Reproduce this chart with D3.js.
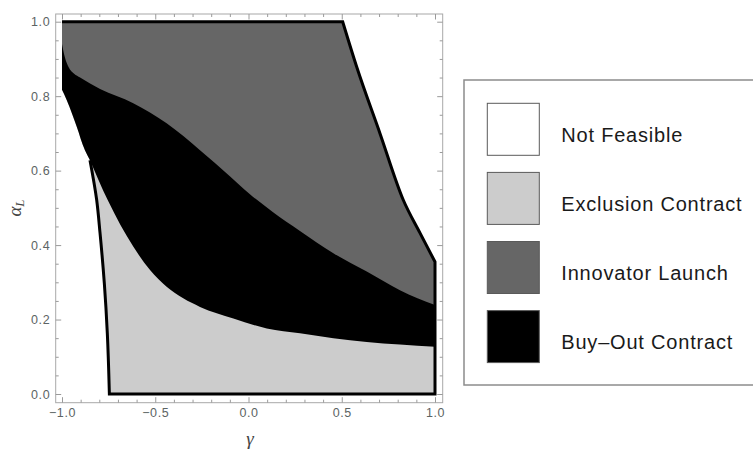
<!DOCTYPE html>
<html><head><meta charset="utf-8">
<script src="https://cdn.jsdelivr.net/npm/d3@7"></script>
<style>
html,body{margin:0;padding:0;background:#fff;}
svg{display:block;}
</style></head>
<body>
<script>
// ---- data ----
// outer feasibility boundary, lower-left part (gamma, alpha)
const leftBoundGamma = [-0.746, -0.757, -0.773, -0.796, -0.814, -0.850];
const leftBoundAlpha = [0.000, 0.163, 0.297, 0.432, 0.521, 0.628];
// outer feasibility boundary, upper-left part
const leftUpperGamma = [-0.850, -0.877, -0.921, -0.975, -1.000];
const leftUpperAlpha = [0.628, 0.655, 0.718, 0.790, 0.817];
// outer feasibility boundary, right part
const rightBoundGamma = [0.505, 0.580, 0.705, 0.830, 0.920, 1.000];
const rightBoundAlpha = [1.000, 0.879, 0.700, 0.521, 0.432, 0.355];
// boundary innovator launch / buy-out
const launchBoundGamma = [-1.000, -0.985, -0.965, -0.935, -0.903, -0.796, -0.618, -0.439, -0.260, -0.100, 0.000, 0.130, 0.276, 0.455, 0.634, 0.812, 1.000];
const launchBoundAlpha = [0.940, 0.905, 0.878, 0.860, 0.850, 0.819, 0.781, 0.727, 0.655, 0.585, 0.540, 0.489, 0.438, 0.378, 0.329, 0.279, 0.239];
// boundary buy-out / exclusion contract
const buyoutBoundGamma = [-0.850, -0.755, -0.618, -0.528, -0.439, -0.350, -0.260, -0.081, 0.098, 0.276, 0.455, 0.634, 0.812, 1.000];
const buyoutBoundAlpha = [0.628, 0.521, 0.396, 0.333, 0.288, 0.257, 0.234, 0.203, 0.176, 0.163, 0.150, 0.140, 0.133, 0.127];

const xMajorTicks = [-1, -0.5, 0, 0.5, 1];
const yMajorTicks = [0, 0.2, 0.4, 0.6, 0.8, 1.0];
const xMinorTicks = [-0.9,-0.8,-0.7,-0.6,-0.4,-0.3,-0.2,-0.1,0.1,0.2,0.3,0.4,0.6,0.7,0.8,0.9];
const yMinorTicks = [0.05,0.1,0.15,0.25,0.3,0.35,0.45,0.5,0.55,0.65,0.7,0.75,0.85,0.9,0.95];

const legendLabels = ["Not Feasible", "Exclusion Contract", "Innovator Launch", "Buy\u2013Out Contract"];
const legendColors = ["#ffffff", "#cccccc", "#666666", "#000000"];

// ---- layout ----
const W = 753, H = 450;
const frame = {l: 55.7, t: 14, r: 442.7, b: 402.7};
const x = d3.scaleLinear().domain([-1, 1]).range([62, 435]);
const y = d3.scaleLinear().domain([0, 1]).range([394, 21.7]);

const svg = d3.select("body").append("svg").attr("width", W).attr("height", H);

const zip = (g, a) => g.map((v, i) => [v, a[i]]);
const curveX = d3.line().x(d => x(d[0])).y(d => y(d[1])).curve(d3.curveMonotoneX);
const curveY = d3.line().x(d => x(d[0])).y(d => y(d[1])).curve(d3.curveMonotoneY);
const straight = d3.line().x(d => x(d[0])).y(d => y(d[1]));
function joinPath(parts, close) {
  let s = parts.map((p, i) => {
    const gen = p.curve === "x" ? curveX : p.curve === "y" ? curveY : straight;
    const str = gen(p.pts);
    return i === 0 ? str : "L" + str.slice(1);
  }).join("");
  return close ? s + "Z" : s;
}

const leftBound = zip(leftBoundGamma, leftBoundAlpha);
const leftUpper = zip(leftUpperGamma, leftUpperAlpha);
const rightBound = zip(rightBoundGamma, rightBoundAlpha);
const launchBound = zip(launchBoundGamma, launchBoundAlpha);
const buyoutBound = zip(buyoutBoundGamma, buyoutBoundAlpha);
const rev = a => a.slice().reverse();
const last = a => a[a.length - 1];

// feasible region (exclusion contract fill)
svg.append("path").attr("fill", legendColors[1]).attr("d", joinPath([
  {curve: "y", pts: leftBound},
  {curve: "y", pts: leftUpper},
  {curve: null, pts: [last(leftUpper), [-1, 1], rightBound[0]]},
  {curve: "x", pts: rightBound},
  {curve: null, pts: [last(rightBound), [1, 0], leftBound[0]]}
], true));

// buy-out region
svg.append("path").attr("fill", legendColors[3]).attr("d", joinPath([
  {curve: "x", pts: buyoutBound},
  {curve: null, pts: [last(buyoutBound), last(rightBound)]},
  {curve: "x", pts: rev(rightBound)},
  {curve: null, pts: [rightBound[0], [-1, 1], last(leftUpper)]},
  {curve: "y", pts: rev(leftUpper)}
], true));

// innovator launch region
svg.append("path").attr("fill", legendColors[2]).attr("d", joinPath([
  {curve: "x", pts: launchBound},
  {curve: null, pts: [last(launchBound), last(rightBound)]},
  {curve: "x", pts: rev(rightBound)},
  {curve: null, pts: [rightBound[0], [-1, 1], launchBound[0]]}
], true));

// thick outline of feasible region
svg.append("path").attr("fill", "none").attr("stroke", "#000").attr("stroke-width", 3)
  .attr("stroke-linejoin", "miter").attr("d", joinPath([
    {curve: "y", pts: rev(leftBound)},
    {curve: null, pts: [leftBound[0], [1, 0], last(rightBound)]},
    {curve: "x", pts: rev(rightBound)},
    {curve: null, pts: [rightBound[0], [-1, 1]]}
  ], false));

// frame
svg.append("rect").attr("x", frame.l).attr("y", frame.t)
  .attr("width", frame.r - frame.l).attr("height", frame.b - frame.t)
  .attr("fill", "none").attr("stroke", "#a8a8a8").attr("stroke-width", 1);

const tickColor = "#9a9a9a";
const labelColor = "#5c6464";
const fmt = d3.format(".1f");
function styleAxis(g) {
  g.select(".domain").remove();
  g.selectAll("line").attr("stroke", tickColor);
  g.selectAll("text").attr("fill", labelColor).attr("font-family", "Liberation Sans, Arial, sans-serif")
    .attr("font-size", 12.5).attr("letter-spacing", 0.6);
}
// bottom
svg.append("g").attr("transform", `translate(0,${frame.b})`)
  .call(d3.axisBottom(x).tickValues(xMajorTicks).tickSizeInner(-5.5).tickSizeOuter(0).tickPadding(5).tickFormat(fmt)).call(styleAxis);
svg.append("g").attr("transform", `translate(0,${frame.b})`)
  .call(d3.axisBottom(x).tickValues(xMinorTicks).tickSizeInner(-3).tickSizeOuter(0).tickFormat("")).call(styleAxis);
// top
svg.append("g").attr("transform", `translate(0,${frame.t})`)
  .call(d3.axisTop(x).tickValues(xMajorTicks).tickSizeInner(-5.5).tickSizeOuter(0).tickFormat("")).call(styleAxis);
svg.append("g").attr("transform", `translate(0,${frame.t})`)
  .call(d3.axisTop(x).tickValues(xMinorTicks).tickSizeInner(-3).tickSizeOuter(0).tickFormat("")).call(styleAxis);
// left
svg.append("g").attr("transform", `translate(${frame.l},0)`)
  .call(d3.axisLeft(y).tickValues(yMajorTicks).tickSizeInner(-5.5).tickSizeOuter(0).tickPadding(5.5).tickFormat(fmt)).call(styleAxis);
svg.append("g").attr("transform", `translate(${frame.l},0)`)
  .call(d3.axisLeft(y).tickValues(yMinorTicks).tickSizeInner(-3).tickSizeOuter(0).tickFormat("")).call(styleAxis);
// right
svg.append("g").attr("transform", `translate(${frame.r},0)`)
  .call(d3.axisRight(y).tickValues(yMajorTicks).tickSizeInner(-5.5).tickSizeOuter(0).tickFormat("")).call(styleAxis);
svg.append("g").attr("transform", `translate(${frame.r},0)`)
  .call(d3.axisRight(y).tickValues(yMinorTicks).tickSizeInner(-3).tickSizeOuter(0).tickFormat("")).call(styleAxis);

// axis labels
svg.append("text").attr("x", 250).attr("y", 445).attr("text-anchor", "middle")
  .attr("font-family", "Liberation Serif, Times New Roman, serif").attr("font-style", "italic")
  .attr("font-size", 19).attr("fill", "#444").text("\u03b3");
const yl = svg.append("text").attr("transform", "translate(21,208) rotate(-90)").attr("text-anchor", "middle")
  .attr("font-family", "Liberation Serif, Times New Roman, serif").attr("font-style", "italic")
  .attr("font-size", 19).attr("fill", "#444");
yl.append("tspan").text("\u03b1");
yl.append("tspan").attr("font-size", 13).attr("dy", 3).text("L");

// legend
const leg = svg.append("g");
leg.append("rect").attr("x", 464).attr("y", 80).attr("width", 300).attr("height", 305)
  .attr("fill", "#fff").attr("stroke", "#8c8c8c").attr("stroke-width", 1.5);
const items = leg.selectAll("g.item").data(legendLabels).join("g").attr("class", "item")
  .attr("transform", (d, i) => `translate(487.3,${103.3 + i * 69.1})`);
items.append("rect").attr("width", 52).attr("height", 52)
  .attr("fill", (d, i) => legendColors[i]).attr("stroke", "#5a5a5a").attr("stroke-width", 1);
items.append("text").attr("x", 74).attr("y", 38.4)
  .attr("font-family", "Liberation Sans, Arial, sans-serif").attr("font-size", 20)
  .attr("letter-spacing", 0.8).attr("fill", "#1a1a1a").text(d => d);
</script>
</body></html>
